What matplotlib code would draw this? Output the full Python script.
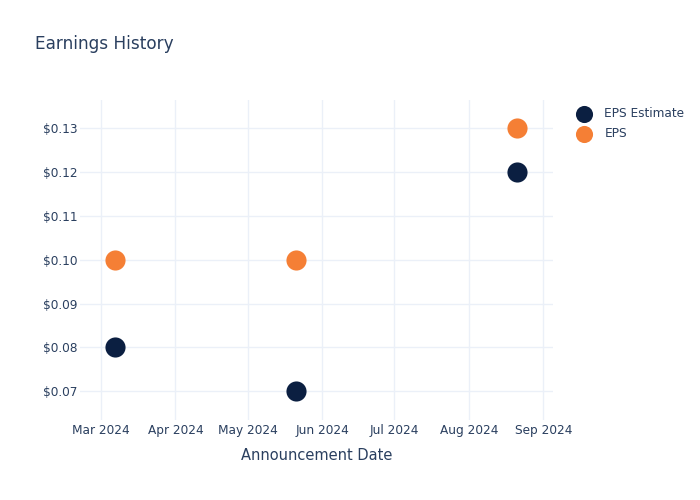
import matplotlib
matplotlib.use("Agg")
import matplotlib.pyplot as plt
import matplotlib.dates as mdates
import numpy as np
import pandas as pd

# data
dates = pd.to_datetime(["2024-03-07", "2024-05-21", "2024-08-21"])
eps_estimate = [0.08, 0.07, 0.12]
eps_actual = [0.10, 0.10, 0.13]
y_ticks = [0.07, 0.08, 0.09, 0.10, 0.11, 0.12, 0.13]

TEXT = "#2a3f5f"
GRID = "#ebf0f8"
NAVY = "#0b1f41"
ORANGE = "#f57f35"

plt.rcParams["font.family"] = ["DejaVu Sans"]

fig = plt.figure(figsize=(7, 5), dpi=100)
ax = fig.add_axes([80 / 700, 80 / 500, 473 / 700, 320 / 500])

ax.scatter(dates, eps_estimate, s=210, color=NAVY, label="EPS Estimate", zorder=3,
           linewidths=0)
ax.scatter(dates, eps_actual, s=210, color=ORANGE, label="EPS", zorder=3,
           linewidths=0)

ax.set_xlim(pd.Timestamp("2024-02-21 08:00"), pd.Timestamp("2024-09-05"))
ax.set_ylim(0.0634, 0.1365)

ax.xaxis.set_major_locator(mdates.MonthLocator())
ax.xaxis.set_major_formatter(mdates.DateFormatter("%b %Y"))
ax.set_yticks(y_ticks)
ax.set_yticklabels([f"${v:.2f}" for v in y_ticks])

ax.grid(True, color=GRID, linewidth=1)
ax.set_axisbelow(True)
for sp in ax.spines.values():
    sp.set_visible(False)
ax.tick_params(length=0, labelsize=8.7, colors=TEXT)
ax.tick_params(axis="x", pad=3)
ax.tick_params(axis="y", pad=2)

ax.set_xlabel("Announcement Date", fontsize=10.5, color=TEXT, labelpad=8)

fig.text(35 / 700, 1 - 44 / 500, "Earnings History", fontsize=12.2, color=TEXT,
         va="center", ha="left")

fig.legend(loc="upper left", bbox_to_anchor=(568 / 700, 1 - 101 / 500),
           frameon=False, fontsize=8.7, labelcolor=TEXT, handletextpad=0.9,
           labelspacing=0.55, markerscale=0.85, borderpad=0, handlelength=1.6)

fig.savefig("out.png", dpi=100)
